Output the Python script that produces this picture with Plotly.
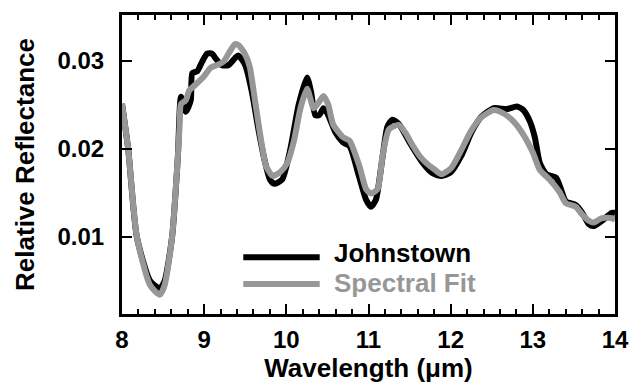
import plotly.graph_objects as go

# Johnstown meteorite spectrum (wavelength in micrometres, relative reflectance)
johnstown_wl = [8.00, 8.075, 8.18, 8.34, 8.46, 8.52, 8.61, 8.68, 8.718, 8.777, 8.837,
                8.856, 8.916, 8.976, 9.036, 9.096, 9.136, 9.215, 9.295, 9.376, 9.415,
                9.50, 9.58, 9.66, 9.74, 9.80, 9.854, 9.95, 10.05, 10.15, 10.252, 10.30,
                10.352, 10.40, 10.452, 10.50, 10.60, 10.691, 10.77, 10.88, 10.97, 11.03,
                11.09, 11.17, 11.23, 11.29, 11.37, 11.50, 11.65, 11.78, 11.888, 12.00,
                12.13, 12.25, 12.37, 12.525, 12.684, 12.804, 12.884, 12.964, 13.024,
                13.084, 13.163, 13.283, 13.342, 13.402, 13.522, 13.602, 13.682, 13.742,
                13.841, 13.961, 14.00]
johnstown_refl = [0.0251, 0.0200, 0.0100, 0.0050, 0.0041, 0.0050, 0.0100, 0.0191, 0.0259,
                  0.0242, 0.0255, 0.0286, 0.0288, 0.0299, 0.0308, 0.0308, 0.0303, 0.0295,
                  0.0295, 0.0303, 0.0306, 0.0295, 0.0265, 0.0222, 0.0185, 0.0165, 0.0160,
                  0.0165, 0.0200, 0.0250, 0.0281, 0.0265, 0.0238, 0.0238, 0.0246, 0.0240,
                  0.0218, 0.0207, 0.0203, 0.0170, 0.0142, 0.0134, 0.0142, 0.0190, 0.0225,
                  0.0233, 0.0228, 0.0207, 0.0185, 0.0172, 0.0169, 0.0173, 0.0192, 0.0218,
                  0.0236, 0.0246, 0.0245, 0.0248, 0.0244, 0.0231, 0.0213, 0.0184, 0.0171,
                  0.0167, 0.0154, 0.0140, 0.0136, 0.0127, 0.0114, 0.0112, 0.0118, 0.0127,
                  0.0127]

# Model spectral fit
fit_wl = [8.00, 8.075, 8.18, 8.34, 8.46, 8.52, 8.61, 8.68, 8.70, 8.718, 8.777, 8.817,
          8.897, 8.996, 9.077, 9.156, 9.236, 9.296, 9.376, 9.415, 9.495, 9.555, 9.615,
          9.694, 9.754, 9.834, 9.933, 10.013, 10.093, 10.172, 10.252, 10.333, 10.39,
          10.452, 10.51, 10.572, 10.691, 10.770, 10.890, 10.970, 11.030, 11.110, 11.170,
          11.249, 11.368, 11.45, 11.529, 11.62, 11.688, 11.808, 11.888, 12.007, 12.127,
          12.246, 12.366, 12.525, 12.645, 12.764, 12.884, 13.003, 13.084, 13.203, 13.323,
          13.402, 13.522, 13.602, 13.682, 13.742, 13.841, 13.961, 14.00]
fit_refl = [0.0251, 0.0200, 0.0100, 0.0045, 0.0034, 0.0045, 0.0100, 0.0191, 0.0224,
            0.0251, 0.0255, 0.0266, 0.0273, 0.0282, 0.0292, 0.0295, 0.0299, 0.0308,
            0.0319, 0.0318, 0.0308, 0.0293, 0.0257, 0.0209, 0.0180, 0.0169, 0.0174,
            0.0184, 0.0209, 0.0246, 0.0268, 0.0246, 0.0252, 0.0260, 0.0250, 0.0227,
            0.0213, 0.0209, 0.0180, 0.0154, 0.0149, 0.0154, 0.0191, 0.0222, 0.0227,
            0.0218, 0.0205, 0.0192, 0.0185, 0.0176, 0.0171, 0.0178, 0.0198, 0.0220,
            0.0235, 0.0244, 0.0240, 0.0231, 0.0216, 0.0195, 0.0176, 0.0165, 0.0151,
            0.0138, 0.0134, 0.0125, 0.0118, 0.0116, 0.0121, 0.0121, 0.0119]

x_ticks = [8, 9, 10, 11, 12, 13, 14]
y_ticks = [0.01, 0.02, 0.03]
y_tick_text = ["0.01", "0.02", "0.03"]

BLACK = "#000000"
GREY = "#979797"
FONT = "Liberation Sans, Arial, sans-serif"

fig = go.Figure()
fig.add_trace(go.Scatter(x=johnstown_wl, y=johnstown_refl, mode="lines",
                         line=dict(color=BLACK, width=6, shape="spline", smoothing=0.6),
                         name="Johnstown", showlegend=False))
fig.add_trace(go.Scatter(x=fit_wl, y=fit_refl, mode="lines",
                         line=dict(color=GREY, width=6, shape="spline", smoothing=0.6),
                         name="Spectral Fit", showlegend=False))

# legend samples and labels
legend_items = [("Johnstown", BLACK, 0.1895, 0.205), ("Spectral Fit", GREY, 0.1007, 0.105)]
for label, color, yl, yt in legend_items:
    fig.add_shape(type="line", xref="paper", yref="paper", x0=0.246, x1=0.401,
                  y0=yl, y1=yl, line=dict(color=color, width=6))
    fig.add_annotation(xref="paper", yref="paper", x=0.425, y=yt, text=f"<b>{label}</b>",
                       showarrow=False, xanchor="left", yanchor="middle",
                       font=dict(family=FONT, size=26, color=color))

axis_common = dict(showline=True, linecolor=BLACK, linewidth=3, mirror="allticks",
                   ticks="inside", tickcolor=BLACK, tickwidth=2, ticklen=10,
                   showgrid=False, zeroline=False,
                   tickfont=dict(family=FONT, size=24, color=BLACK))

fig.update_xaxes(range=[8, 14], tickvals=x_ticks, ticktext=[f"<b>{v}</b>" for v in x_ticks],
                 minor=dict(ticks="inside", dtick=0.2, ticklen=5, tickwidth=2, tickcolor=BLACK),
                 ticklabelstandoff=2,
                 title=dict(text="<b>Wavelength (\u03bcm)</b>", font=dict(family=FONT, size=26, color=BLACK),
                            standoff=4),
                 **axis_common)
fig.update_yaxes(range=[0.0012, 0.0352], tickvals=y_ticks, ticktext=[f"<b>{t}</b>" for t in y_tick_text],
                 ticklabelstandoff=10,
                 title=dict(text="<b>Relative Reflectance</b>", font=dict(family=FONT, size=26, color=BLACK),
                            standoff=16),
                 **axis_common)

fig.update_layout(width=641, height=387, margin=dict(l=122, r=17, t=13, b=66),
                  paper_bgcolor="white", plot_bgcolor="white")

fig.write_html("out.html")
